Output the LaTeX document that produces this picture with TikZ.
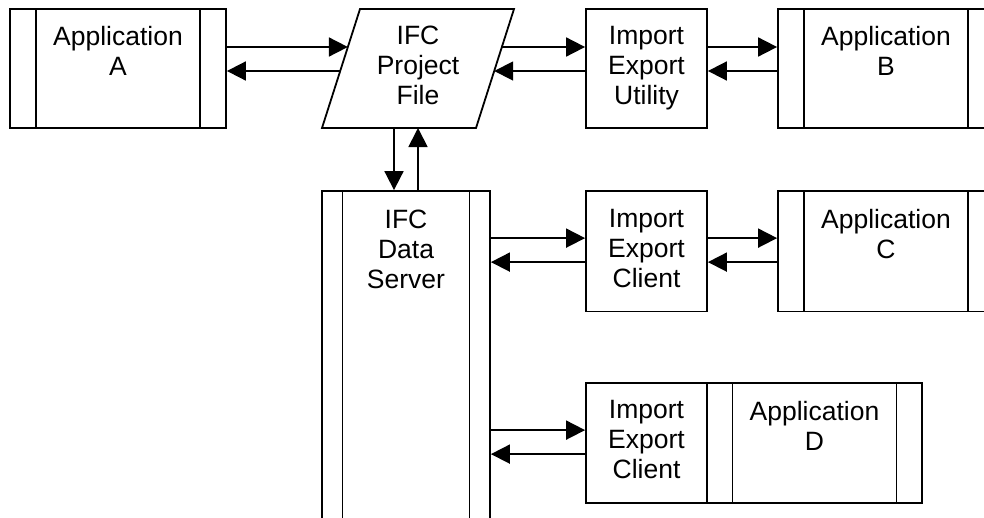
\documentclass[tikz,border=0pt]{standalone}
\usepackage{fontspec}
\setmainfont{Liberation Sans}
\usetikzlibrary{arrows.meta,calc}
\begin{document}
\begin{tikzpicture}[x=1pt,y=-1pt,
  box/.style={draw, line width=1.8pt, inner sep=0pt, rectangle},
  appbox/.style={box, path picture={\draw[line width=1.5pt]
      ([xshift=#1]path picture bounding box.north west) -- ([xshift=#1]path picture bounding box.south west)
      ([xshift=-#1]path picture bounding box.north east) -- ([xshift=-#1]path picture bounding box.south east);}},
  txt/.style={font=\fontsize{26.5pt}{30pt}\selectfont, align=center, inner sep=0pt, anchor=north},
  arr/.style={line width=1.8pt, -{Triangle[length=19pt,width=19pt]}}]
\clip (0,0) rectangle (984,517);
\fill[white] (0,0) rectangle (984,517);

% row 1
\node[appbox=26pt, minimum width=216pt, minimum height=119pt] (appA) at (118,68.5) {};
\node[txt] (appAt) at (118,26) {Application\\A};

\coordinate (pTL) at (360,9);
\coordinate (pTR) at (514,9);
\coordinate (pBR) at (476,128);
\coordinate (pBL) at (322,128);
\draw[line width=1.8pt, line join=miter] (pTL) -- (pTR) -- (pBR) -- (pBL) -- cycle;
\node[txt] (ifcT) at (418,25.5) {IFC\\Project\\File};

\node[box, minimum width=121pt, minimum height=119pt] (util) at (646.5,68.5) {};
\node[txt] (utilT) at (646.5,26.5) {Import\\Export\\Utility};

\node[appbox=26pt, minimum width=216pt, minimum height=119pt] (appB) at (886,68.5) {};
\node[txt] (appBt) at (886,26) {Application\\B};

% server
\node[appbox=20.5pt, minimum width=168pt, minimum height=339pt] (server) at (406,360.5) {};
\node[txt] (serverT) at (406,209.5) {IFC\\Data\\Server};

% row 2
\node[box, minimum width=121pt, minimum height=120.5pt] (cliC) at (646.5,251.25) {};
\node[txt] (cliCt) at (646.5,209.5) {Import\\Export\\Client};
\node[appbox=26pt, minimum width=216pt, minimum height=120.5pt] (appC) at (886,251.25) {};
\node[txt] (appCt) at (886,209) {Application\\C};

% row 3
\node[box, minimum width=121pt, minimum height=120pt] (cliD) at (646.5,443) {};
\node[txt] (cliDt) at (646.5,400) {Import\\Export\\Client};
\node[appbox=25.5pt, minimum width=215pt, minimum height=120pt] (appD) at (814.5,443) {};
\node[txt] (appDt) at (814.5,401) {Application\\D};

% connector points on the parallelogram
\coordinate (pL1) at ($(pTL)!0.3193!(pBL)$);
\coordinate (pL2) at ($(pTL)!0.5210!(pBL)$);
\coordinate (pR1) at ($(pTR)!0.3193!(pBR)$);
\coordinate (pR2) at ($(pTR)!0.5210!(pBR)$);
\coordinate (pD) at ($(pBL)+(72,0)$);
\coordinate (pU) at ($(pBL)+(96,0)$);

\draw[arr] (appA.east |- pL1) -- (pL1);
\draw[arr] (pL2) -- (appA.east |- pL2);
\draw[arr] (pR1) -- (util.west |- pR1);
\draw[arr] (util.west |- pR2) -- (pR2);
\draw[arr] (util.east |- pR1) -- (appB.west |- pR1);
\draw[arr] (appB.west |- pR2) -- (util.east |- pR2);

\draw[arr] (pD) -- (pD |- server.north);
\draw[arr] (pU |- server.north) -- (pU);

\coordinate (c1) at ([yshift=-48pt]cliC.north west);
\coordinate (c2) at ([yshift=-72pt]cliC.north west);
\draw[arr] (server.east |- c1) -- (c1);
\draw[arr] (c2) -- (server.east |- c2);
\draw[arr] (cliC.east |- c1) -- (appC.west |- c1);
\draw[arr] (appC.west |- c2) -- (cliC.east |- c2);

\coordinate (d1) at ([yshift=-48pt]cliD.north west);
\coordinate (d2) at ([yshift=-72pt]cliD.north west);
\draw[arr] (server.east |- d1) -- (d1);
\draw[arr] (d2) -- (server.east |- d2);
\end{tikzpicture}
\end{document}
